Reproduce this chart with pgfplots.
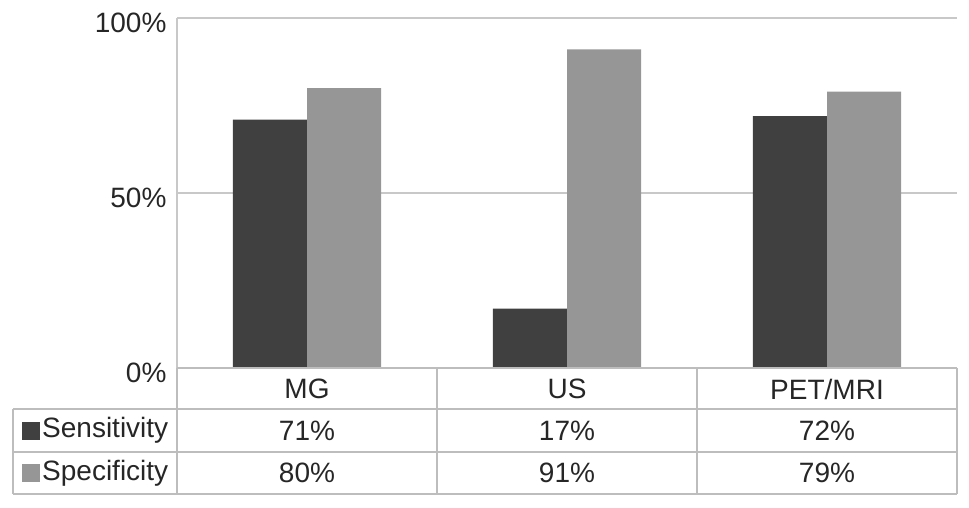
\documentclass[border=0pt]{standalone}
\usepackage{pgfplots}
\pgfplotsset{compat=1.18}
\usepackage{fontspec}
\setmainfont{Liberation Sans}
\definecolor{darkbar}{HTML}{404040}
\definecolor{lightbar}{HTML}{969696}
\definecolor{gridc}{HTML}{C8C8C8}
\definecolor{tablec}{HTML}{BDBDBD}
\definecolor{txt}{HTML}{262626}
\pgfplotstableread{
x sens spec
0 71 80
1 17 91
2 72 79
}\datatab
\begin{document}
\begin{tikzpicture}[x=1pt,y=1pt]
\path[use as bounding box] (-177,-139) rectangle (792,368);
\begin{axis}[
  at={(0,0)}, anchor=south west,
  x={(260pt,0)}, y={(0,3.5pt)},
  xmin=-0.5, xmax=2.5, ymin=0, ymax=100,
  axis x line=none,
  axis y line*=left,
  axis line style={draw=gridc, line width=1.5pt, -},
  ytick={0,50,100},
  yticklabels={0\%,50\%,100\%},
  yticklabel style={font=\fontsize{28}{32}\selectfont, text=txt, yshift=-5pt, xshift=-7pt},
  major tick length=0pt,
  ymajorgrids,
  grid style={draw=gridc, line width=1.5pt},
  clip=false,
]
\addplot[ybar, bar width=0.285, bar shift=-0.1425, fill=darkbar, draw=none] table[x=x, y=sens] {\datatab};
\addplot[ybar, bar width=0.285, bar shift=0.1425, fill=lightbar, draw=none] table[x=x, y=spec] {\datatab};
\end{axis}
% data table
\begin{scope}[draw=tablec, line width=1.5pt]
\draw (0,0) -- (780,0);
\draw (-164,-41) -- (780,-41);
\draw (-164,-84) -- (780,-84);
\draw (-164,-126) -- (780,-126);
\draw (-164,-41) -- (-164,-126);
\draw (0,0) -- (0,-126);
\draw (260,0) -- (260,-126);
\draw (520,0) -- (520,-126);
\draw (780,0) -- (780,-126);
\end{scope}
\begin{scope}[font=\fontsize{28}{32}\selectfont, text=txt]
\node at (130,-21) {MG};
\node at (390,-21) {US};
\node at (650,-21) {PET/MRI};
\node at (130,-62.5) {71\%};
\node at (390,-62.5) {17\%};
\node at (650,-62.5) {72\%};
\node at (130,-105) {80\%};
\node at (390,-105) {91\%};
\node at (650,-105) {79\%};
\fill[darkbar] (-155,-71.5) rectangle (-137,-53.5);
\fill[lightbar] (-155,-114) rectangle (-137,-96);
\node[anchor=west, inner sep=0pt] at (-135,-62.5) {Sensitivity};
\node[anchor=west, inner sep=0pt] at (-135,-105) {Specificity};
\end{scope}
\end{tikzpicture}
\end{document}
